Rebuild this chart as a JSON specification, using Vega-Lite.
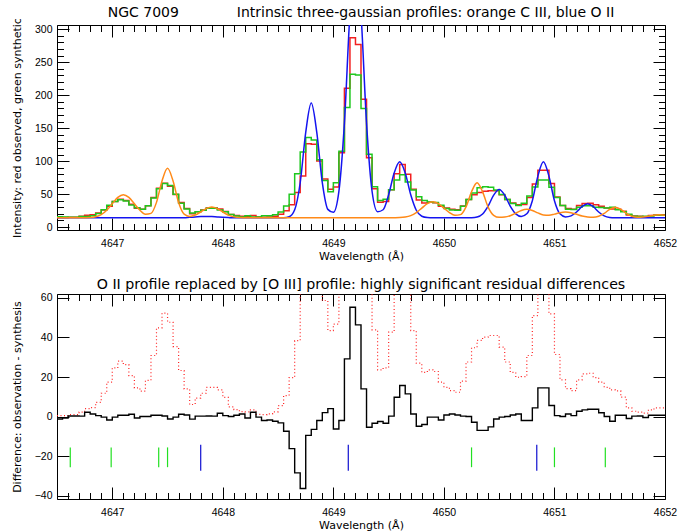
{
  "$schema": "https://vega.github.io/schema/vega-lite/v6.json",
  "background": "white",
  "padding": {"left": 10, "top": 5, "right": 5, "bottom": 0},
  "config": {
    "view": {"stroke": "black", "strokeWidth": 1},
    "font": "DejaVu Sans",
    "axis": {"domain": false, "grid": false, "tickColor": "black", "tickWidth": 1, "labelColor": "black", "titleColor": "black", "labelFont": "Liberation Sans", "titleFont": "DejaVu Sans", "labelFontSize": 10.5, "titleFontSize": 11, "titleFontWeight": "normal", "labelOverlap": false, "labelFlush": false},
    "title": {"fontSize": 14, "fontWeight": "normal", "font": "DejaVu Sans", "color": "black", "anchor": "middle", "frame": "group"}
  },
  "datasets": {
    "bins": [
      {"w":4646.50,"o":14.5,"s":15.7,"r":-1.2,"d":0.5},
      {"w":4646.55,"o":14.5,"s":15.2,"r":-0.7,"d":0.5},
      {"w":4646.60,"o":15.0,"s":14.7,"r":0.3,"d":1.0},
      {"w":4646.65,"o":15.0,"s":14.7,"r":0.3,"d":1.0},
      {"w":4646.70,"o":16.2,"s":16.0,"r":0.2,"d":2.2},
      {"w":4646.75,"o":18.0,"s":15.8,"r":2.2,"d":4.0},
      {"w":4646.80,"o":18.5,"s":17.2,"r":1.3,"d":4.5},
      {"w":4646.85,"o":21.2,"s":20.7,"r":0.5,"d":7.2},
      {"w":4646.90,"o":25.8,"s":26.1,"r":-0.3,"d":11.8},
      {"w":4646.95,"o":31.4,"s":33.1,"r":-1.7,"d":17.4},
      {"w":4647.00,"o":38.6,"s":38.9,"r":-0.3,"d":24.6},
      {"w":4647.05,"o":42.0,"s":41.3,"r":0.7,"d":28.0},
      {"w":4647.10,"o":40.3,"s":39.6,"r":0.7,"d":26.3},
      {"w":4647.15,"o":34.7,"s":33.5,"r":1.2,"d":20.7},
      {"w":4647.20,"o":28.5,"s":29.2,"r":-0.7,"d":14.5},
      {"w":4647.25,"o":26.9,"s":26.9,"r":0.0,"d":12.9},
      {"w":4647.30,"o":32.3,"s":32.3,"r":0.0,"d":18.3},
      {"w":4647.35,"o":44.9,"s":44.2,"r":0.7,"d":30.9},
      {"w":4647.40,"o":58.9,"s":58.2,"r":0.7,"d":44.9},
      {"w":4647.45,"o":66.3,"s":66.0,"r":0.3,"d":52.3},
      {"w":4647.50,"o":61.7,"s":62.9,"r":-1.2,"d":47.7},
      {"w":4647.55,"o":49.4,"s":49.7,"r":-0.3,"d":35.4},
      {"w":4647.60,"o":37.3,"s":36.1,"r":1.2,"d":23.3},
      {"w":4647.65,"o":28.0,"s":27.2,"r":0.8,"d":14.0},
      {"w":4647.70,"o":20.1,"s":21.4,"r":-1.3,"d":6.1},
      {"w":4647.75,"o":23.3,"s":23.1,"r":0.2,"d":9.3},
      {"w":4647.80,"o":25.8,"s":25.6,"r":0.2,"d":11.8},
      {"w":4647.85,"o":28.8,"s":28.5,"r":0.3,"d":14.8},
      {"w":4647.90,"o":28.8,"s":28.6,"r":0.2,"d":14.8},
      {"w":4647.95,"o":27.5,"s":25.8,"r":1.7,"d":13.5},
      {"w":4648.00,"o":23.7,"s":23.2,"r":0.5,"d":9.7},
      {"w":4648.05,"o":18.9,"s":18.9,"r":0.0,"d":4.9},
      {"w":4648.10,"o":17.5,"s":16.8,"r":0.7,"d":3.5},
      {"w":4648.15,"o":16.5,"s":15.2,"r":1.3,"d":2.5},
      {"w":4648.20,"o":16.4,"s":17.1,"r":-0.7,"d":2.4},
      {"w":4648.25,"o":17.4,"s":15.2,"r":2.2,"d":3.4},
      {"w":4648.30,"o":15.1,"s":15.4,"r":-0.3,"d":1.1},
      {"w":4648.35,"o":15.0,"s":17.0,"r":-2.0,"d":1.0},
      {"w":4648.40,"o":15.4,"s":17.1,"r":-1.7,"d":1.4},
      {"w":4648.45,"o":16.4,"s":18.8,"r":-2.4,"d":2.4},
      {"w":4648.50,"o":19.5,"s":22.7,"r":-3.2,"d":5.5},
      {"w":4648.55,"o":24.6,"s":32.0,"r":-7.4,"d":10.6},
      {"w":4648.60,"o":33.7,"s":49.9,"r":-16.2,"d":19.7},
      {"w":4648.65,"o":52.4,"s":80.9,"r":-28.5,"d":38.4},
      {"w":4648.70,"o":77.4,"s":113.8,"r":-36.4,"d":63.4},
      {"w":4648.75,"o":126.4,"s":135.9,"r":-9.5,"d":112.4},
      {"w":4648.80,"o":125.5,"s":132.0,"r":-6.5,"d":111.5},
      {"w":4648.85,"o":100.0,"s":102.0,"r":-2.0,"d":86.0},
      {"w":4648.90,"o":72.7,"s":70.7,"r":2.0,"d":58.7},
      {"w":4648.95,"o":57.5,"s":53.5,"r":4.0,"d":43.5},
      {"w":4649.00,"o":60.8,"s":67.1,"r":-6.3,"d":46.8},
      {"w":4649.05,"o":112.8,"s":114.8,"r":-2.0,"d":98.8},
      {"w":4649.10,"o":210.4,"s":181.2,"r":29.2,"d":196.4},
      {"w":4649.15,"o":287.0,"s":231.7,"r":55.3,"d":273.0},
      {"w":4649.20,"o":277.0,"s":230.6,"r":46.4,"d":263.0},
      {"w":4649.25,"o":193.8,"s":179.8,"r":14.0,"d":179.8},
      {"w":4649.30,"o":105.2,"s":110.6,"r":-5.4,"d":91.2},
      {"w":4649.35,"o":57.9,"s":61.3,"r":-3.4,"d":43.9},
      {"w":4649.40,"o":37.6,"s":40.1,"r":-2.5,"d":23.6},
      {"w":4649.45,"o":38.6,"s":42.0,"r":-3.4,"d":24.6},
      {"w":4649.50,"o":56.7,"s":56.5,"r":0.2,"d":42.7},
      {"w":4649.55,"o":81.0,"s":71.2,"r":9.8,"d":67.0},
      {"w":4649.60,"o":95.0,"s":79.3,"r":15.7,"d":81.0},
      {"w":4649.65,"o":80.0,"s":68.5,"r":11.5,"d":66.0},
      {"w":4649.70,"o":57.5,"s":56.2,"r":1.3,"d":43.5},
      {"w":4649.75,"o":41.0,"s":45.9,"r":-4.9,"d":27.0},
      {"w":4649.80,"o":36.4,"s":40.4,"r":-4.0,"d":22.4},
      {"w":4649.85,"o":37.6,"s":37.9,"r":-0.3,"d":23.6},
      {"w":4649.90,"o":36.8,"s":37.1,"r":-0.3,"d":22.8},
      {"w":4649.95,"o":31.4,"s":33.1,"r":-1.7,"d":17.4},
      {"w":4650.00,"o":28.8,"s":28.0,"r":0.8,"d":14.8},
      {"w":4650.05,"o":27.1,"s":25.8,"r":1.3,"d":13.1},
      {"w":4650.10,"o":26.3,"s":25.5,"r":0.8,"d":12.3},
      {"w":4650.15,"o":31.9,"s":31.7,"r":0.2,"d":17.9},
      {"w":4650.20,"o":41.6,"s":41.6,"r":0.0,"d":27.6},
      {"w":4650.25,"o":48.8,"s":51.7,"r":-2.9,"d":34.8},
      {"w":4650.30,"o":52.5,"s":59.5,"r":-7.0,"d":38.5},
      {"w":4650.35,"o":54.2,"s":61.2,"r":-7.0,"d":40.2},
      {"w":4650.40,"o":55.0,"s":60.2,"r":-5.2,"d":41.0},
      {"w":4650.45,"o":55.0,"s":56.2,"r":-1.2,"d":41.0},
      {"w":4650.50,"o":49.1,"s":49.4,"r":-0.3,"d":35.1},
      {"w":4650.55,"o":41.6,"s":41.6,"r":0.0,"d":27.6},
      {"w":4650.60,"o":36.4,"s":35.6,"r":0.8,"d":22.4},
      {"w":4650.65,"o":33.9,"s":32.6,"r":1.3,"d":19.9},
      {"w":4650.70,"o":34.2,"s":36.2,"r":-2.0,"d":20.2},
      {"w":4650.75,"o":44.9,"s":46.9,"r":-2.0,"d":30.9},
      {"w":4650.80,"o":65.1,"s":60.7,"r":4.4,"d":51.1},
      {"w":4650.85,"o":86.0,"s":71.5,"r":14.5,"d":72.0},
      {"w":4650.90,"o":86.0,"s":71.5,"r":14.5,"d":72.0},
      {"w":4650.95,"o":65.9,"s":60.3,"r":5.6,"d":51.9},
      {"w":4651.00,"o":45.4,"s":44.9,"r":0.5,"d":31.4},
      {"w":4651.05,"o":32.6,"s":32.6,"r":0.0,"d":18.6},
      {"w":4651.10,"o":28.1,"s":26.8,"r":1.3,"d":14.1},
      {"w":4651.15,"o":27.1,"s":26.6,"r":0.5,"d":13.1},
      {"w":4651.20,"o":32.6,"s":29.9,"r":2.7,"d":18.6},
      {"w":4651.25,"o":35.6,"s":32.2,"r":3.4,"d":21.6},
      {"w":4651.30,"o":35.9,"s":32.2,"r":3.7,"d":21.9},
      {"w":4651.35,"o":33.7,"s":30.0,"r":3.7,"d":19.7},
      {"w":4651.40,"o":31.4,"s":29.5,"r":1.9,"d":17.4},
      {"w":4651.45,"o":28.8,"s":28.8,"r":0.0,"d":14.8},
      {"w":4651.50,"o":27.5,"s":29.9,"r":-2.4,"d":13.5},
      {"w":4651.55,"o":27.0,"s":26.3,"r":0.7,"d":13.0},
      {"w":4651.60,"o":23.8,"s":23.1,"r":0.7,"d":9.8},
      {"w":4651.65,"o":18.4,"s":19.4,"r":-1.0,"d":4.4},
      {"w":4651.70,"o":16.7,"s":16.5,"r":0.2,"d":2.7},
      {"w":4651.75,"o":16.2,"s":15.9,"r":0.3,"d":2.2},
      {"w":4651.80,"o":15.7,"s":16.2,"r":-0.5,"d":1.7},
      {"w":4651.85,"o":17.4,"s":16.7,"r":0.7,"d":3.4},
      {"w":4651.90,"o":18.4,"s":17.7,"r":0.7,"d":4.4},
      {"w":4651.95,"o":18.4,"s":17.7,"r":0.7,"d":4.4},
      {"w":4652.00,"o":18.4,"s":17.7,"r":0.7,"d":4.4}
    ],
    "prof": [
      {"w":4646.50,"c3":14.0,"o2":14.0},
      {"w":4646.55,"c3":14.0,"o2":14.0},
      {"w":4646.60,"c3":14.0,"o2":14.0},
      {"w":4646.65,"c3":14.0,"o2":14.0},
      {"w":4646.70,"c3":14.0,"o2":14.0},
      {"w":4646.75,"c3":14.1,"o2":14.0},
      {"w":4646.80,"c3":14.4,"o2":14.0},
      {"w":4646.85,"c3":15.5,"o2":14.0},
      {"w":4646.90,"c3":18.7,"o2":14.0},
      {"w":4646.95,"c3":25.4,"o2":14.0},
      {"w":4647.00,"c3":35.2,"o2":14.0},
      {"w":4647.05,"c3":44.9,"o2":14.0},
      {"w":4647.10,"c3":49.0,"o2":14.0},
      {"w":4647.15,"c3":44.9,"o2":14.0},
      {"w":4647.20,"c3":35.2,"o2":14.0},
      {"w":4647.25,"c3":25.5,"o2":14.0},
      {"w":4647.30,"c3":19.4,"o2":14.0},
      {"w":4647.35,"c3":20.7,"o2":14.0},
      {"w":4647.40,"c3":37.4,"o2":14.0},
      {"w":4647.45,"c3":69.9,"o2":14.0},
      {"w":4647.50,"c3":89.0,"o2":14.0},
      {"w":4647.55,"c3":69.8,"o2":14.0},
      {"w":4647.60,"c3":37.1,"o2":14.0},
      {"w":4647.65,"c3":19.5,"o2":14.0},
      {"w":4647.70,"c3":16.1,"o2":14.7},
      {"w":4647.75,"c3":18.2,"o2":15.2},
      {"w":4647.80,"c3":22.8,"o2":15.8},
      {"w":4647.85,"c3":28.0,"o2":16.0},
      {"w":4647.90,"c3":30.3,"o2":15.8},
      {"w":4647.95,"c3":28.0,"o2":15.2},
      {"w":4648.00,"c3":22.8,"o2":14.7},
      {"w":4648.05,"c3":18.1,"o2":14.3},
      {"w":4648.10,"c3":15.4,"o2":14.0},
      {"w":4648.15,"c3":14.3,"o2":14.0},
      {"w":4648.20,"c3":14.1,"o2":14.0},
      {"w":4648.25,"c3":14.0,"o2":14.0},
      {"w":4648.30,"c3":14.0,"o2":14.0},
      {"w":4648.35,"c3":14.0,"o2":14.0},
      {"w":4648.40,"c3":14.0,"o2":14.0},
      {"w":4648.45,"c3":14.0,"o2":14.0},
      {"w":4648.50,"c3":14.0,"o2":14.0},
      {"w":4648.55,"c3":14.0,"o2":14.1},
      {"w":4648.60,"c3":14.0,"o2":15.5},
      {"w":4648.65,"c3":14.0,"o2":26.1},
      {"w":4648.70,"c3":14.0,"o2":67.2},
      {"w":4648.75,"c3":14.0,"o2":143.5},
      {"w":4648.80,"c3":14.0,"o2":188.0},
      {"w":4648.85,"c3":14.0,"o2":143.5},
      {"w":4648.90,"c3":14.0,"o2":67.3},
      {"w":4648.95,"c3":14.0,"o2":26.8},
      {"w":4649.00,"c3":14.0,"o2":22.3},
      {"w":4649.05,"c3":14.0,"o2":54.1},
      {"w":4649.10,"c3":14.0,"o2":158.0},
      {"w":4649.15,"c3":14.0,"o2":324.0},
      {"w":4649.20,"c3":14.0,"o2":414.0},
      {"w":4649.25,"c3":14.0,"o2":324.0},
      {"w":4649.30,"c3":14.0,"o2":158.0},
      {"w":4649.35,"c3":14.0,"o2":54.3},
      {"w":4649.40,"c3":14.0,"o2":23.2},
      {"w":4649.45,"c3":14.0,"o2":26.2},
      {"w":4649.50,"c3":14.0,"o2":48.9},
      {"w":4649.55,"c3":14.1,"o2":82.0},
      {"w":4649.60,"c3":14.3,"o2":99.0},
      {"w":4649.65,"c3":15.1,"o2":82.0},
      {"w":4649.70,"c3":17.3,"o2":48.9},
      {"w":4649.75,"c3":21.9,"o2":25.5},
      {"w":4649.80,"c3":28.8,"o2":16.4},
      {"w":4649.85,"c3":35.5,"o2":14.3},
      {"w":4649.90,"c3":38.4,"o2":14.0},
      {"w":4649.95,"c3":35.5,"o2":14.0},
      {"w":4650.00,"c3":28.8,"o2":14.0},
      {"w":4650.05,"c3":21.9,"o2":14.0},
      {"w":4650.10,"c3":17.8,"o2":14.0},
      {"w":4650.15,"c3":18.8,"o2":14.0},
      {"w":4650.20,"c3":30.5,"o2":14.0},
      {"w":4650.25,"c3":53.5,"o2":14.2},
      {"w":4650.30,"c3":67.0,"o2":15.2},
      {"w":4650.35,"c3":53.4,"o2":19.8},
      {"w":4650.40,"c3":30.2,"o2":31.7},
      {"w":4650.45,"c3":17.8,"o2":48.4},
      {"w":4650.50,"c3":14.7,"o2":57.0},
      {"w":4650.55,"c3":15.1,"o2":48.4},
      {"w":4650.60,"c3":17.2,"o2":31.7},
      {"w":4650.65,"c3":21.0,"o2":19.9},
      {"w":4650.70,"c3":25.1,"o2":16.0},
      {"w":4650.75,"c3":27.0,"o2":20.1},
      {"w":4650.80,"c3":25.2,"o2":40.0},
      {"w":4650.85,"c3":21.4,"o2":77.2},
      {"w":4650.90,"c3":18.4,"o2":99.0},
      {"w":4650.95,"c3":17.9,"o2":77.2},
      {"w":4651.00,"c3":19.6,"o2":40.0},
      {"w":4651.05,"c3":21.8,"o2":20.0},
      {"w":4651.10,"c3":22.7,"o2":15.4},
      {"w":4651.15,"c3":21.7,"o2":17.0},
      {"w":4651.20,"c3":19.3,"o2":22.8},
      {"w":4651.25,"c3":16.8,"o2":31.2},
      {"w":4651.30,"c3":15.3,"o2":35.5},
      {"w":4651.35,"c3":14.8,"o2":31.2},
      {"w":4651.40,"c3":16.3,"o2":22.8},
      {"w":4651.45,"c3":20.6,"o2":16.9},
      {"w":4651.50,"c3":26.8,"o2":14.6},
      {"w":4651.55,"c3":30.0,"o2":14.1},
      {"w":4651.60,"c3":26.8,"o2":14.0},
      {"w":4651.65,"c3":20.7,"o2":14.0},
      {"w":4651.70,"c3":16.3,"o2":14.0},
      {"w":4651.75,"c3":14.8,"o2":14.0},
      {"w":4651.80,"c3":15.2,"o2":14.0},
      {"w":4651.85,"c3":16.4,"o2":14.0},
      {"w":4651.90,"c3":17.9,"o2":14.0},
      {"w":4651.95,"c3":18.5,"o2":14.0},
      {"w":4652.00,"c3":17.9,"o2":14.0}
    ],
    "c3lines": [{"w":4646.62},{"w":4646.99},{"w":4647.42},{"w":4647.50},{"w":4650.25},{"w":4651.00},{"w":4651.46}],
    "o2lines": [{"w":4647.80},{"w":4649.135},{"w":4650.84}]
  },
  "bounds": "flush",
  "spacing": 64,
  "resolve": {"scale": {"x": "independent", "y": "independent"}},
  "vconcat": [
    {
      "width": 608,
      "height": 205,
      "title": {"text": "NGC 7009\u00a0\u00a0\u00a0\u00a0\u00a0\u00a0\u00a0\u00a0\u00a0\u00a0\u00a0\u00a0\u00a0Intrinsic three-gaussian profiles: orange C III, blue O II", "offset": -2},
      "layer": [
        {
          "data": {"name": "bins"},
          "mark": {"type": "line", "interpolate": "step-after", "color": "#f22020", "strokeWidth": 1.5, "clip": true},
          "encoding": {
            "x": {"field": "w", "type": "quantitative", "scale": {"domain": [4646.5, 4652], "nice": false, "zero": false},
              "axis": {"orient": "bottom", "title": "Wavelength (Å)", "titlePadding": -4,
                "values": [4646.5,4646.6,4646.7,4646.8,4646.9,4647,4647.1,4647.2,4647.3,4647.4,4647.5,4647.6,4647.7,4647.8,4647.9,4648,4648.1,4648.2,4648.3,4648.4,4648.5,4648.6,4648.7,4648.8,4648.9,4649,4649.1,4649.2,4649.3,4649.4,4649.5,4649.6,4649.7,4649.8,4649.9,4650,4650.1,4650.2,4650.3,4650.4,4650.5,4650.6,4650.7,4650.8,4650.9,4651,4651.1,4651.2,4651.3,4651.4,4651.5,4651.6,4651.7,4651.8,4651.9,4652],
                "tickSize": {"condition": {"test": "abs(datum.value - round(datum.value)) < 0.01", "value": -12}, "value": -6.5},
                "labelExpr": "abs(datum.value - round(datum.value)) < 0.01 ? format(datum.value, 'd') : ''",
                "labelPadding": 20}},
            "y": {"field": "o", "type": "quantitative", "scale": {"domain": [-4.5, 306.5], "nice": false, "zero": false},
              "axis": {"orient": "left", "title": "Intensity: red observed, green synthetic", "titlePadding": 12,
                "values": [0,10,20,30,40,50,60,70,80,90,100,110,120,130,140,150,160,170,180,190,200,210,220,230,240,250,260,270,280,290,300],
                "tickSize": {"condition": {"test": "datum.value % 50 === 0", "value": -12}, "value": -6.5},
                "labelExpr": "datum.value % 50 === 0 ? format(datum.value, 'd') : ''",
                "labelPadding": 17}}
          }
        },
        {
          "data": {"name": "bins"},
          "mark": {"type": "line", "interpolate": "step-after", "color": "#1ec81e", "strokeWidth": 1.5, "clip": true},
          "encoding": {
            "x": {"field": "w", "type": "quantitative",
              "axis": {"orient": "top", "title": null, "labels": false,
                "values": [4646.5,4646.6,4646.7,4646.8,4646.9,4647,4647.1,4647.2,4647.3,4647.4,4647.5,4647.6,4647.7,4647.8,4647.9,4648,4648.1,4648.2,4648.3,4648.4,4648.5,4648.6,4648.7,4648.8,4648.9,4649,4649.1,4649.2,4649.3,4649.4,4649.5,4649.6,4649.7,4649.8,4649.9,4650,4650.1,4650.2,4650.3,4650.4,4650.5,4650.6,4650.7,4650.8,4650.9,4651,4651.1,4651.2,4651.3,4651.4,4651.5,4651.6,4651.7,4651.8,4651.9,4652],
                "tickSize": {"condition": {"test": "abs(datum.value - round(datum.value)) < 0.01", "value": -12}, "value": -6.5}}},
            "y": {"field": "s", "type": "quantitative",
              "axis": {"orient": "right", "title": null, "labels": false,
                "values": [0,10,20,30,40,50,60,70,80,90,100,110,120,130,140,150,160,170,180,190,200,210,220,230,240,250,260,270,280,290,300],
                "tickSize": {"condition": {"test": "datum.value % 50 === 0", "value": -12}, "value": -6.5}}}
          }
        },
        {
          "data": {"name": "prof"},
          "mark": {"type": "line", "interpolate": "monotone", "color": "#1414f0", "strokeWidth": 1.5, "clip": true},
          "encoding": {
            "x": {"field": "w", "type": "quantitative", "axis": null},
            "y": {"field": "o2", "type": "quantitative", "axis": null}
          }
        },
        {
          "data": {"name": "prof"},
          "mark": {"type": "line", "interpolate": "monotone", "color": "#ff8a18", "strokeWidth": 1.5, "clip": true},
          "encoding": {
            "x": {"field": "w", "type": "quantitative", "axis": null},
            "y": {"field": "c3", "type": "quantitative", "axis": null}
          }
        }
      ],
      "resolve": {"axis": {"x": "independent", "y": "independent"}}
    },
    {
      "width": 608,
      "height": 205,
      "title": {"text": "O II profile replaced by [O III] profile: highly significant residual differences", "fontSize": 14.2, "offset": 0.5},
      "layer": [
        {
          "data": {"name": "bins"},
          "mark": {"type": "line", "interpolate": "step-after", "color": "#ff2020", "strokeWidth": 1.2, "strokeDash": [1, 2.5], "clip": true},
          "encoding": {
            "x": {"field": "w", "type": "quantitative", "scale": {"domain": [4646.5, 4652], "nice": false, "zero": false},
              "axis": {"orient": "bottom", "title": "Wavelength (Å)", "titlePadding": -4,
                "values": [4646.5,4646.6,4646.7,4646.8,4646.9,4647,4647.1,4647.2,4647.3,4647.4,4647.5,4647.6,4647.7,4647.8,4647.9,4648,4648.1,4648.2,4648.3,4648.4,4648.5,4648.6,4648.7,4648.8,4648.9,4649,4649.1,4649.2,4649.3,4649.4,4649.5,4649.6,4649.7,4649.8,4649.9,4650,4650.1,4650.2,4650.3,4650.4,4650.5,4650.6,4650.7,4650.8,4650.9,4651,4651.1,4651.2,4651.3,4651.4,4651.5,4651.6,4651.7,4651.8,4651.9,4652],
                "tickSize": {"condition": {"test": "abs(datum.value - round(datum.value)) < 0.01", "value": -12}, "value": -6.5},
                "labelExpr": "abs(datum.value - round(datum.value)) < 0.01 ? format(datum.value, 'd') : ''",
                "labelPadding": 20}},
            "y": {"field": "d", "type": "quantitative", "scale": {"domain": [-41.7, 62], "nice": false, "zero": false},
              "axis": {"orient": "left", "title": "Difference: observation - synthesis", "titlePadding": 12,
                "values": [-40, -20, 0, 20, 40, 60], "tickSize": -12, "labelPadding": 17, "format": "d"}}
          }
        },
        {
          "data": {"name": "bins"},
          "mark": {"type": "line", "interpolate": "step-after", "color": "black", "strokeWidth": 1.4, "clip": true},
          "encoding": {
            "x": {"field": "w", "type": "quantitative",
              "axis": {"orient": "top", "title": null, "labels": false,
                "values": [4646.5,4646.6,4646.7,4646.8,4646.9,4647,4647.1,4647.2,4647.3,4647.4,4647.5,4647.6,4647.7,4647.8,4647.9,4648,4648.1,4648.2,4648.3,4648.4,4648.5,4648.6,4648.7,4648.8,4648.9,4649,4649.1,4649.2,4649.3,4649.4,4649.5,4649.6,4649.7,4649.8,4649.9,4650,4650.1,4650.2,4650.3,4650.4,4650.5,4650.6,4650.7,4650.8,4650.9,4651,4651.1,4651.2,4651.3,4651.4,4651.5,4651.6,4651.7,4651.8,4651.9,4652],
                "tickSize": {"condition": {"test": "abs(datum.value - round(datum.value)) < 0.01", "value": -12}, "value": -6.5}}},
            "y": {"field": "r", "type": "quantitative",
              "axis": {"orient": "right", "title": null, "labels": false, "values": [-40, -20, 0, 20, 40, 60], "tickSize": -12}}
          }
        },
        {
          "mark": {"type": "rule", "color": "black", "strokeWidth": 1},
          "encoding": {"y": {"datum": 0, "type": "quantitative", "axis": null}}
        },
        {
          "data": {"name": "c3lines"},
          "mark": {"type": "rule", "color": "#22e022", "strokeWidth": 1.2},
          "encoding": {
            "x": {"field": "w", "type": "quantitative", "axis": null},
            "y": {"datum": -15.6, "type": "quantitative", "axis": null},
            "y2": {"datum": -25.6}
          }
        },
        {
          "data": {"name": "o2lines"},
          "mark": {"type": "rule", "color": "#1010d0", "strokeWidth": 1.2},
          "encoding": {
            "x": {"field": "w", "type": "quantitative", "axis": null},
            "y": {"datum": -14.2, "type": "quantitative", "axis": null},
            "y2": {"datum": -27.4}
          }
        }
      ],
      "resolve": {"axis": {"x": "independent", "y": "independent"}}
    }
  ]
}
